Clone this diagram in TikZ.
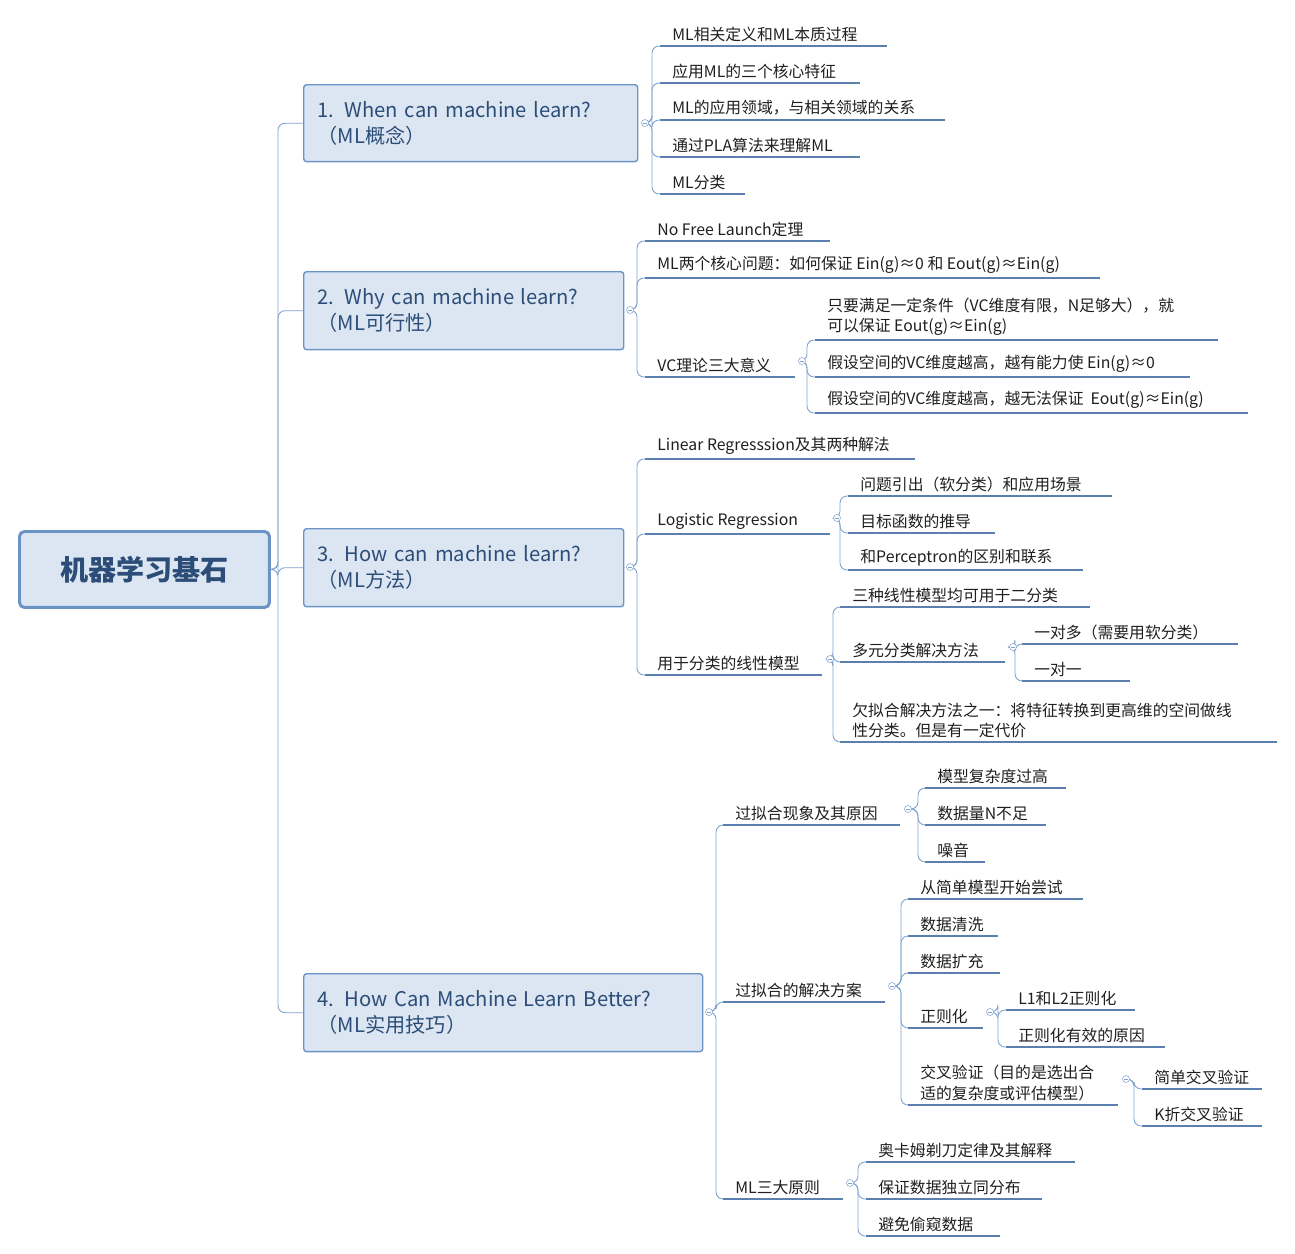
\documentclass[tikz,border=0pt]{standalone}
\usepackage{fontspec}
\setmainfont{Noto Sans CJK SC}
\usetikzlibrary{calc}
\definecolor{linecol}{HTML}{7FA3CF}
\definecolor{ulcol}{HTML}{5B7FAE}
\definecolor{boxfill}{HTML}{DCE6F2}
\definecolor{boxdraw}{HTML}{6A93C6}
\definecolor{txtcol}{HTML}{1F1F1F}
\definecolor{roottxt}{HTML}{2B4D78}
\tikzset{
  uline/.style={ulcol, line width=1.25pt},
  conn/.style={linecol, line width=0.5pt, rounded corners=4pt},
  leaftxt/.style={anchor=south west, inner sep=0pt, align=left, text=txtcol,
    font=\fontsize{9}{11.5}\selectfont},
  lonebox/.style={draw=boxdraw, fill=boxfill, line width=0.8pt, rounded corners=1.7pt,
    anchor=north west, align=left, text=roottxt, inner xsep=8pt,
    font=\fontsize{11.5}{15}\selectfont},
  fold/.style={circle, draw=linecol, fill=white, inner sep=0pt, minimum size=4pt, line width=0.3pt,
    path picture={\draw[linecol, line width=0.3pt] ($(path picture bounding box.west)+(0.85pt,0)$) -- ($(path picture bounding box.east)+(-0.85pt,0)$);}},
}
% leaf: name, x start, x end, y of underline, text
\newcommand\leaf[5]{%
  \coordinate (#1w) at (#2,#4);
  \coordinate (#1e) at (#3,#4);
  \draw[uline] (#1w) -- (#1e);
  \node[leaftxt] (#1) at ($(#1w)+(12,-4)$) {#5};
}
% joint: parent point, trunk x, child
\newcommand\joint[3]{\draw[conn] (#1) -- (#2,0 |- #1) |- (#3w);}
\begin{document}
\begin{tikzpicture}[x=0.02cm, y=-0.02cm]
  \useasboundingbox (0,0) rectangle (1295,1254);
  % root
  \node[draw=boxdraw, fill=boxfill, line width=1.7pt, rounded corners=2.8pt, anchor=north west,
    minimum width=5cm, minimum height=1.52cm, text=roottxt,
    font=\fontsize{16}{18}\selectfont\bfseries] (root) at (18,530) {机器学习基石};
  % level 1
  \node[lonebox, minimum height=1.54cm, text width=6.12cm] (one) at (303,84)
    {1. When can machine learn?\\（ML概念）};
  \node[lonebox, minimum height=1.56cm, text width=5.84cm] (two) at (303,271)
    {2. Why can machine learn?\\（ML可行性）};
  \node[lonebox, minimum height=1.56cm, text width=5.84cm] (three) at (303,528)
    {3. How can machine learn?\\（ML方法）};
  \node[lonebox, minimum height=1.56cm, text width=7.42cm] (four) at (303,973)
    {4. How Can Machine Learn Better?\\（ML实用技巧）};
  \foreach \b in {one,two,three,four}
    \draw[conn] (root.east) -- (278,0 |- root.east) |- (\b.west);

  % 1
  \leaf{a1}{660}{887}{46}{ML相关定义和ML本质过程}
  \leaf{a2}{660}{860}{83}{应用ML的三个核心特征}
  \leaf{a3}{660}{945}{120}{ML的应用领域，与相关领域的关系}
  \leaf{a4}{660}{860}{157}{通过PLA算法来理解ML}
  \leaf{a5}{660}{745}{194}{ML分类}
  \coordinate (onef) at (645,123);
  \foreach \c in {a1,a2,a3,a4,a5} \joint{onef}{652}{\c};
  \node[fold] at (onef) {};

  % 2
  \leaf{b1}{645}{830}{241}{No Free Launch定理}
  \leaf{b2}{645}{1100}{278}{ML两个核心问题：如何保证 Ein(g)≈0 和 Eout(g)≈Ein(g)}
  \leaf{b3}{645}{795}{377}{VC理论三大意义}
  \coordinate (twof) at (630,310);
  \foreach \c in {b1,b2,b3} \joint{twof}{637}{\c};
  \node[fold] at (twof) {};
  \leaf{b31}{815}{1218}{340}{只要满足一定条件（VC维度有限，N足够大），就\\可以保证 Eout(g)≈Ein(g)}
  \leaf{b32}{815}{1190}{377}{假设空间的VC维度越高，越有能力使 Ein(g)≈0}
  \leaf{b33}{815}{1248}{413}{假设空间的VC维度越高，越无法保证 \ Eout(g)≈Ein(g)}
  \coordinate (b3f) at (802,361);
  \foreach \c in {b31,b32,b33} \joint{b3f}{807}{\c};
  \node[fold] at (b3f) {};

  % 3
  \leaf{c1}{645}{915}{459}{Linear Regresssion及其两种解法}
  \leaf{c2}{645}{830}{534}{Logistic Regression}
  \leaf{c3}{645}{822}{675}{用于分类的线性模型}
  \coordinate (threef) at (630,567);
  \foreach \c in {c1,c2,c3} \joint{threef}{637}{\c};
  \node[fold] at (threef) {};
  \leaf{c21}{848}{1112}{496}{问题引出（软分类）和应用场景}
  \leaf{c22}{848}{995}{533}{目标函数的推导}
  \leaf{c23}{848}{1083}{570}{和Perceptron的区别和联系}
  \coordinate (c2f) at (837,518);
  \foreach \c in {c21,c22,c23} \joint{c2f}{840}{\c};
  \node[fold] at (c2f) {};
  \leaf{c31}{840}{1090}{607}{三种线性模型均可用于二分类}
  \leaf{c32}{840}{1005}{662}{多元分类解决方法}
  \leaf{c33}{840}{1277}{742}{欠拟合解决方法之一：将特征转换到更高维的空间做线\\性分类。但是有一定代价}
  \coordinate (c3f) at (830,659);
  \foreach \c in {c31,c32,c33} \joint{c3f}{833}{\c};
  \node[fold] at (c3f) {};
  \leaf{c321}{1022}{1238}{644}{一对多（需要用软分类）}
  \leaf{c322}{1022}{1130}{681}{一对一}
  \coordinate (c32f) at (1013,647);
  \foreach \c in {c321,c322} \joint{c32f}{1015}{\c};
  \node[fold] at (c32f) {};

  % 4
  \leaf{d1}{723}{900}{825}{过拟合现象及其原因}
  \leaf{d2}{723}{885}{1002}{过拟合的解决方案}
  \leaf{d3}{723}{843}{1199}{ML三大原则}
  \coordinate (fourf) at (709,1012);
  \foreach \c in {d1,d2,d3} \joint{fourf}{716}{\c};
  \node[fold] at (fourf) {};
  \leaf{d11}{925}{1066}{788}{模型复杂度过高}
  \leaf{d12}{925}{1046}{825}{数据量N不足}
  \leaf{d13}{925}{985}{862}{噪音}
  \coordinate (d1f) at (908,809);
  \foreach \c in {d11,d12,d13} \joint{d1f}{918}{\c};
  \node[fold] at (d1f) {};
  \leaf{d21}{908}{1083}{899}{从简单模型开始尝试}
  \leaf{d22}{908}{998}{936}{数据清洗}
  \leaf{d23}{908}{1000}{973}{数据扩充}
  \leaf{d24}{908}{983}{1028}{正则化}
  \leaf{d25}{908}{1118}{1105}{交叉验证（目的是选出合\\适的复杂度或评估模型）}
  \coordinate (d2f) at (892,986);
  \foreach \c in {d21,d22,d23,d24,d25} \joint{d2f}{901}{\c};
  \node[fold] at (d2f) {};
  \leaf{d241}{1006}{1135}{1010}{L1和L2正则化}
  \leaf{d242}{1006}{1165}{1047}{正则化有效的原因}
  \coordinate (d24f) at (990,1012);
  \foreach \c in {d241,d242} \joint{d24f}{998}{\c};
  \node[fold] at (d24f) {};
  \leaf{d251}{1142}{1262}{1089}{简单交叉验证}
  \leaf{d252}{1142}{1262}{1126}{K折交叉验证}
  \coordinate (d25f) at (1126,1079);
  \foreach \c in {d251,d252} \joint{d25f}{1134}{\c};
  \node[fold] at (d25f) {};
  \leaf{d31}{866}{1075}{1162}{奥卡姆剃刀定律及其解释}
  \leaf{d32}{866}{1042}{1199}{保证数据独立同分布}
  \leaf{d33}{866}{1000}{1236}{避免偷窥数据}
  \coordinate (d3f) at (850,1183);
  \foreach \c in {d31,d32,d33} \joint{d3f}{858}{\c};
  \node[fold] at (d3f) {};
\end{tikzpicture}
\end{document}
